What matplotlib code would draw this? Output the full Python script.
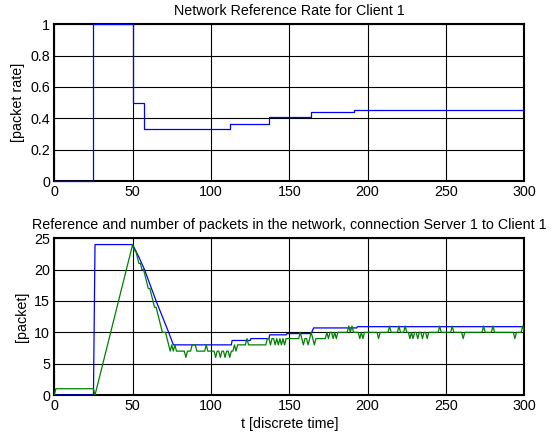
import matplotlib
matplotlib.use("Agg")
import matplotlib.pyplot as plt
import numpy as np

plt.rcParams['font.family'] = ['Liberation Sans', 'DejaVu Sans']

# ---- Top plot: network reference rate (step changes) ----
rate_t = [0, 25, 50, 57, 112, 137, 164, 191, 300]
rate_v = [0, 1.0, 0.5, 0.333, 0.365, 0.41, 0.441, 0.454, 0.454]

# ---- Bottom plot: reference (blue) polyline points ----
ref_t = [0, 25, 26, 50, 54, 57.6, 65, 73, 76, 113, 113.5, 125, 125.5,
         137, 137.5, 148, 148.5, 164, 165.5, 193, 193.5, 300]
ref_v = [0, 0, 24, 24, 22, 20, 15, 10, 8, 8, 8.7, 8.7, 9.0,
         9.0, 9.6, 9.6, 9.8, 9.8, 10.7, 10.7, 10.9, 10.9]

# ---- Bottom plot: number of packets in network (green), t = 0..300 ----
packets = [
    0, 1, 1, 1, 1, 1, 1, 1, 1, 1,
    1, 1, 1, 1, 1, 1, 1, 1, 1, 1,
    1, 1, 1, 1, 1, 1, 0, 1, 2, 3,
    4, 5, 6, 7, 8, 9, 10, 11, 12, 13,
    14, 15, 16, 17, 18, 19, 20, 21, 22, 23,
    24, 23, 23, 22, 21, 21, 20, 20, 19, 18,
    17, 17, 16, 15, 14, 14, 13, 12, 11, 10,
    10, 10, 9, 8, 7, 8, 7, 8, 7, 7,
    7, 7, 7, 7, 6, 7, 7, 7, 8, 8,
    8, 7, 7, 7, 7, 7, 7, 8, 7, 7,
    7, 7, 7, 6, 7, 7, 6, 7, 7, 6,
    7, 7, 6, 7, 7, 8, 7, 8, 8, 8,
    8, 8, 8, 9, 8, 8, 8, 8, 8, 8,
    8, 8, 8, 8, 8, 8, 9, 9, 8, 9,
    9, 8, 9, 8, 9, 8, 9, 8, 9, 9,
    9, 9, 9, 9, 9, 9, 9, 10, 9, 8,
    9, 9, 8, 9, 10, 9, 8, 9, 9, 9,
    9, 9, 9, 9, 10, 9, 10, 10, 9, 10,
    9, 10, 10, 10, 10, 10, 10, 10, 11, 10,
    11, 10, 10, 10, 10, 9, 10, 9, 10, 10,
    10, 10, 10, 10, 10, 10, 10, 9, 10, 10,
    10, 10, 10, 10, 11, 10, 10, 10, 10, 10,
    11, 10, 10, 10, 11, 10, 10, 9, 10, 9,
    10, 10, 9, 10, 10, 9, 10, 10, 9, 10,
    10, 10, 10, 10, 10, 10, 11, 10, 10, 10,
    10, 10, 10, 10, 11, 10, 10, 10, 10, 10,
    10, 9, 10, 10, 10, 10, 10, 10, 10, 10,
    10, 10, 10, 10, 11, 10, 10, 10, 10, 10,
    11, 10, 10, 10, 10, 10, 10, 10, 10, 10,
    10, 10, 10, 10, 9, 10, 10, 10, 10, 11,
    10,
]
packet_t = np.arange(len(packets))

x_ticks = [0, 50, 100, 150, 200, 250, 300]
top_yticks = [0, 0.2, 0.4, 0.6, 0.8, 1]
top_yticklabels = ['0', '0.2', '0.4', '0.6', '0.8', '1']
bot_yticks = [0, 5, 10, 15, 20, 25]

fig = plt.figure(figsize=(5.59, 4.37), dpi=100)
ax1 = fig.add_axes([0.0971, 0.5858, 0.8408, 0.3586])
ax2 = fig.add_axes([0.0971, 0.0961, 0.8408, 0.3586])

fs = 10.3
for ax in (ax1, ax2):
    ax.set_xlim(0, 300)
    ax.set_xticks(x_ticks)
    ax.grid(True, color='black', linewidth=0.8, linestyle='-')
    ax.set_axisbelow(True)
    ax.tick_params(axis='both', length=0, labelsize=fs, pad=3)
    for s in ax.spines.values():
        s.set_linewidth(1.5)
        s.set_color('black')

ax1.plot(rate_t, rate_v, drawstyle='steps-post', color='#0000ff', linewidth=0.9,
         clip_on=False, zorder=3)
ax1.set_ylim(0, 1)
ax1.set_yticks(top_yticks)
ax1.set_yticklabels(top_yticklabels)
ax1.set_ylabel('[packet rate]', fontsize=fs, labelpad=4)
ax1.set_title('Network Reference Rate for Client 1', fontsize=fs, pad=7)

ax2.plot(ref_t, ref_v, color='#0000ff', linewidth=0.9, zorder=3)
ax2.plot(packet_t, packets, color='#008000', linewidth=0.9, zorder=4)
ax2.set_ylim(0, 25)
ax2.set_yticks(bot_yticks)
ax2.set_ylabel('[packet]', fontsize=fs, labelpad=4)
ax2.set_xlabel('t [discrete time]', fontsize=fs, labelpad=3)
ax2.set_title('Reference and number of packets in the network, connection Server 1 to Client 1',
              fontsize=fs, pad=7)

fig.savefig('out.png', dpi=100)
